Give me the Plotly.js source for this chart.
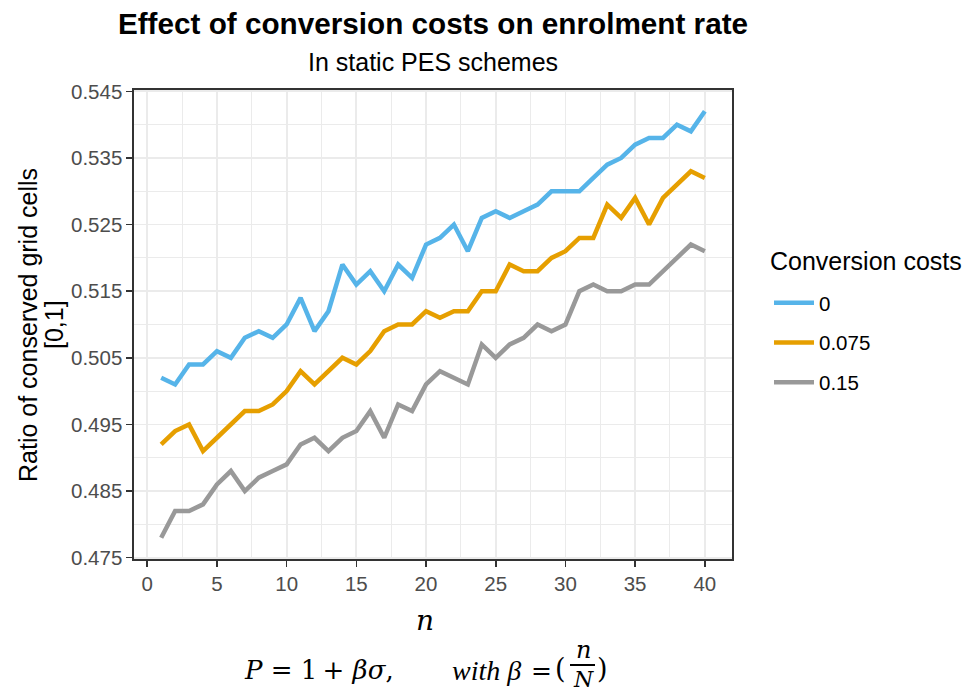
<!DOCTYPE html>
<html>
<head>
<meta charset="utf-8">
<script src="https://cdn.plot.ly/plotly-3.0.1.min.js"></script>
<style>
  html, body { margin: 0; padding: 0; background: #ffffff; }
  #chart { width: 968px; height: 693px; }
</style>
</head>
<body>
<div id="chart"></div>
<script>
// Number of enrolled neighbours considered
const nValues = [1, 2, 3, 4, 5, 6, 7, 8, 9, 10,
                 11, 12, 13, 14, 15, 16, 17, 18, 19, 20,
                 21, 22, 23, 24, 25, 26, 27, 28, 29, 30,
                 31, 32, 33, 34, 35, 36, 37, 38, 39, 40];

// Conversion cost levels (legend labels)
const costLabels = ['0', '0.075', '0.15'];

// Ratio of conserved grid cells for each conversion cost
const ratioCost0 = [0.502, 0.501, 0.504, 0.504, 0.506, 0.505, 0.508, 0.509, 0.508, 0.510,
                    0.514, 0.509, 0.512, 0.519, 0.516, 0.518, 0.515, 0.519, 0.517, 0.522,
                    0.523, 0.525, 0.521, 0.526, 0.527, 0.526, 0.527, 0.528, 0.530, 0.530,
                    0.530, 0.532, 0.534, 0.535, 0.537, 0.538, 0.538, 0.540, 0.539, 0.542];

const ratioCost0075 = [0.492, 0.494, 0.495, 0.491, 0.493, 0.495, 0.497, 0.497, 0.498, 0.500,
                       0.503, 0.501, 0.503, 0.505, 0.504, 0.506, 0.509, 0.510, 0.510, 0.512,
                       0.511, 0.512, 0.512, 0.515, 0.515, 0.519, 0.518, 0.518, 0.520, 0.521,
                       0.523, 0.523, 0.528, 0.526, 0.529, 0.525, 0.529, 0.531, 0.533, 0.532];

const ratioCost015 = [0.478, 0.482, 0.482, 0.483, 0.486, 0.488, 0.485, 0.487, 0.488, 0.489,
                      0.492, 0.493, 0.491, 0.493, 0.494, 0.497, 0.493, 0.498, 0.497, 0.501,
                      0.503, 0.502, 0.501, 0.507, 0.505, 0.507, 0.508, 0.510, 0.509, 0.510,
                      0.515, 0.516, 0.515, 0.515, 0.516, 0.516, 0.518, 0.520, 0.522, 0.521];

const seriesValues = [ratioCost0, ratioCost0075, ratioCost015];
const seriesColors = ['#56B4E9', '#E69F00', '#999999'];

// Figure geometry
const FIG_W = 968, FIG_H = 693;
const M = { l: 134, r: 236, t: 90, b: 134 };
const PLOT_W = FIG_W - M.l - M.r;
const PLOT_H = FIG_H - M.t - M.b;
// pixel -> paper helpers for text placed around the panel
const px = x => (x - M.l) / PLOT_W;
const py = y => (FIG_H - M.b - y) / PLOT_H;

const SANS = 'Liberation Sans, Arial, Helvetica, sans-serif';
const SERIF = 'DejaVu Serif, Liberation Serif, serif';
const SERIF_NARROW = 'Liberation Serif, DejaVu Serif, serif';
const BASE = 25;

const traces = seriesValues.map((vals, i) => ({
  type: 'scatter',
  mode: 'lines',
  x: nValues,
  y: vals,
  name: costLabels[i],
  legendgroup: 'g' + i,
  line: { color: seriesColors[i], width: 4.5 },
  hoverinfo: 'x+y+name'
}));

const gridMajor = '#EBEBEB';
const axisCommon = {
  showline: true,
  mirror: true,
  linecolor: '#333333',
  linewidth: 1.6,
  ticks: 'outside',
  ticklen: 6,
  tickwidth: 1.6,
  tickcolor: '#333333',
  tickfont: { family: SANS, size: 20.5, color: '#4D4D4D' },
  showgrid: true,
  gridcolor: gridMajor,
  gridwidth: 1.8,
  zeroline: false
};

// small helper for free-standing text
function label(text, x, y, size, opts) {
  return Object.assign({
    text: text, xref: 'paper', yref: 'paper', x: px(x), y: py(y),
    xanchor: 'center', yanchor: 'middle', showarrow: false, borderpad: 0,
    font: { family: SANS, size: size, color: '#000000' }
  }, opts || {});
}

const serifFont = (size, family) => ({ font: { family: family || SERIF, size: size, color: '#000000' } });

const layout = {
  width: FIG_W,
  height: FIG_H,
  margin: M,
  paper_bgcolor: '#ffffff',
  plot_bgcolor: '#ffffff',
  font: { family: SANS, color: '#000000' },
  title: {
    text: '<b>Effect of conversion costs on enrolment rate</b>',
    font: { family: SANS, size: 29.7, color: '#000000' },
    xref: 'paper', x: 0.5, xanchor: 'center',
    yref: 'container', y: 1 - 13 / FIG_H, yanchor: 'top'
  },
  xaxis: Object.assign({}, axisCommon, {
    range: [-0.95, 41.95],
    tickmode: 'linear',
    tick0: 0,
    dtick: 5,
    minor: { dtick: 2.5, showgrid: true, gridcolor: gridMajor, gridwidth: 1, ticks: '' }
  }),
  yaxis: Object.assign({}, axisCommon, {
    range: [0.4748, 0.5452],
    tickmode: 'linear',
    tick0: 0.475,
    dtick: 0.01,
    tickformat: '.3f',
    minor: { dtick: 0.005, showgrid: true, gridcolor: gridMajor, gridwidth: 1, ticks: '' }
  }),
  showlegend: true,
  legend: {
    x: px(769), xanchor: 'left',
    y: py(283), yanchor: 'top',
    bgcolor: 'rgba(0,0,0,0)',
    borderwidth: 0,
    itemwidth: 40,
    tracegroupgap: 10,
    font: { family: SANS, size: 20.5, color: '#000000' }
  },
  annotations: [
    // subtitle
    label('In static PES schemes', 433, 62, BASE),
    // legend heading
    label('Conversion costs', 769, 261, BASE, { xanchor: 'left' }),
    // y-axis title, two lines
    label('Ratio of conserved grid cells', 28, 325, BASE, { textangle: -90 }),
    label('[0,1]', 54, 325, BASE, { textangle: -90 }),
    // x-axis title
    label('<i>n</i>', 425, 620, 28, serifFont(28)),
    // price formula
    label('<i>P</i> = 1\u2009+ <i>βσ</i>,', 243, 670, 26, Object.assign({ xanchor: 'left' }, serifFont(26))),
    label('<i>with\u00A0β</i>', 451, 670, 28, Object.assign({ xanchor: 'left' }, serifFont(28, SERIF_NARROW))),
    label('=', 541, 670, 25, serifFont(25)),
    label('(', 560, 668, 27, serifFont(27)),
    label('<i>n</i>', 583, 650, 24, serifFont(24)),
    label('<i>N</i>', 583, 679, 22, serifFont(22)),
    label(')', 602, 668, 27, serifFont(27))
  ],
  shapes: [
    // fraction bar
    { type: 'line', xref: 'paper', yref: 'paper',
      x0: px(570), x1: px(595), y0: py(665), y1: py(665),
      line: { color: '#000000', width: 2 } }
  ]
};

Plotly.newPlot('chart', traces, layout, { displayModeBar: false, staticPlot: true });
</script>
</body>
</html>
